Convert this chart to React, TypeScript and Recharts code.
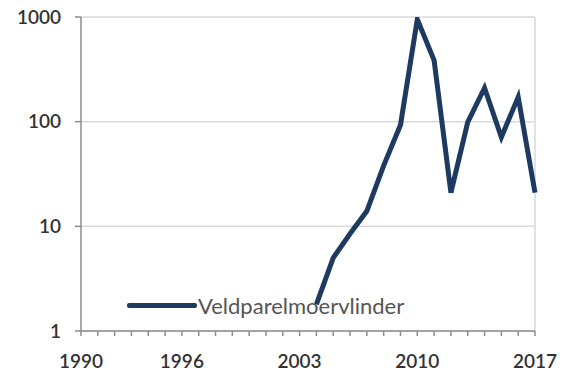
import React from 'react'
import {
  LineChart, Line, XAxis, YAxis, CartesianGrid, ReferenceLine, Legend,
} from 'recharts'

const years = [
  1990, 1991, 1992, 1993, 1994, 1995, 1996, 1997, 1998, 1999, 2000, 2001, 2002, 2003,
  2004, 2005, 2006, 2007, 2008, 2009, 2010, 2011, 2012, 2013, 2014, 2015, 2016, 2017,
]
// no counts before 2004
const counts: (number | null)[] = [
  null, null, null, null, null, null, null, null, null, null, null, null, null, null,
  1.8, 5, 8.5, 14, 38, 93, 950, 385, 21, 99, 210, 71, 172, 21,
]
const xLabelYears = [1990, 1996, 2003, 2010, 2017]
const yTicks = [1, 10, 100, 1000]
const seriesName = 'Veldparelmoervlinder'

const data = years.map((year, i) => ({ year, count: counts[i] }))

const FONT = 'Lato, "Liberation Sans", Arial, sans-serif'
const NAVY = '#1f3a60'
const LABEL = '#333'

function YearTick({ x, y, payload }: { x?: number; y?: number; payload?: { value: number } }) {
  if (!payload || !xLabelYears.includes(payload.value)) return <g />
  return (
    <text x={x} y={y} dy="0.71em" textAnchor="middle" fill={LABEL} fontSize={19} fontWeight={600} fontFamily={FONT}>
      {payload.value}
    </text>
  )
}

function LegendBox() {
  return (
    <div style={{ display: 'flex', alignItems: 'center', fontFamily: FONT }}>
      <div style={{ width: 70, height: 5, background: NAVY, borderRadius: 2 }} />
      <span style={{ marginLeft: 1, fontSize: 22, color: '#555', whiteSpace: 'nowrap' }}>{seriesName}</span>
    </div>
  )
}

export default function App() {
  return (
    <div style={{ position: 'fixed', left: 0, top: 0, width: 561, height: 376, background: '#fff' }}>
      <LineChart width={561} height={376} data={data} margin={{ top: 17, right: 26, left: 21, bottom: 15 }}>
        <CartesianGrid vertical={false} stroke="#d9d9d9" strokeWidth={1.5} />
        <ReferenceLine x={2017} stroke="#d9d9d9" strokeWidth={1.5} />
        <XAxis
          type="number"
          dataKey="year"
          domain={[1990, 2017]}
          ticks={years}
          interval={0}
          height={30}
          tick={<YearTick />}
          tickSize={5}
          tickMargin={19}
          stroke="#8c8c8c"
          strokeWidth={1.5}
        />
        <YAxis
          scale="log"
          domain={[1, 1000]}
          ticks={yTicks}
          allowDataOverflow
          width={60}
          tickSize={6}
          tickMargin={14}
          stroke="#8c8c8c"
          strokeWidth={1.5}
          tick={{ fill: LABEL, fontSize: 19, fontWeight: 600, fontFamily: FONT }}
        />
        <Legend
          layout="horizontal"
          verticalAlign="middle"
          align="center"
          content={<LegendBox />}
          wrapperStyle={{ position: 'absolute', left: 127, top: 292, width: 'auto' }}
        />
        <Line
          type="linear"
          dataKey="count"
          name={seriesName}
          stroke={NAVY}
          strokeWidth={5}
          dot={false}
          activeDot={false}
          isAnimationActive={false}
        />
      </LineChart>
    </div>
  )
}
